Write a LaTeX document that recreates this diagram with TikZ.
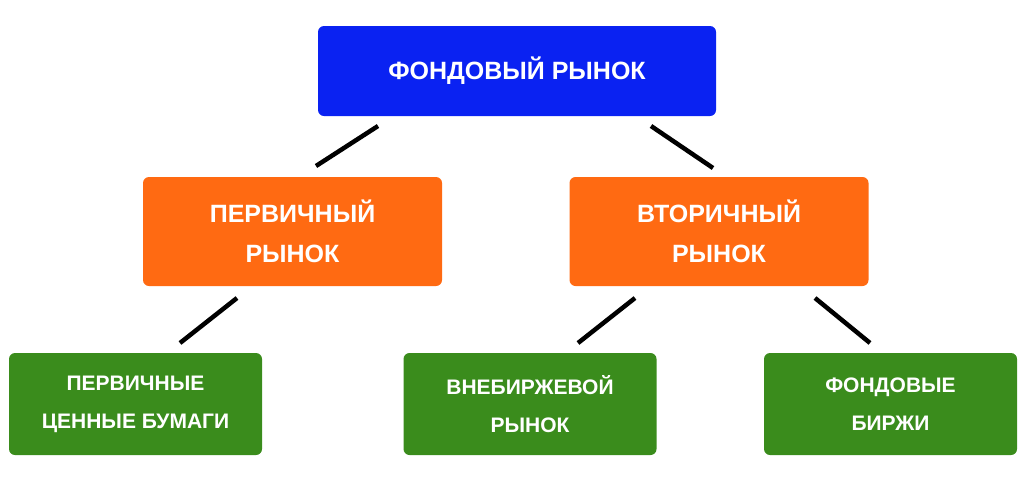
\documentclass[tikz,border=0pt]{standalone}
\usepackage{fontspec}
\setmainfont{Liberation Sans}
\definecolor{cblue}{HTML}{0A22F2}
\definecolor{corange}{HTML}{FF6A12}
\definecolor{cgreen}{HTML}{3A8C1C}
\begin{document}
\begin{tikzpicture}[x=1pt,y=-1pt,
  box/.style={rounded corners=6pt,text=white,align=center,font=\bfseries,inner sep=0pt},
  bluebox/.style={box,fill=cblue,minimum width=398pt,minimum height=90pt,font=\bfseries\fontsize{25}{30}\selectfont},
  orangebox/.style={box,fill=corange,minimum width=299pt,minimum height=109pt,font=\bfseries\fontsize{25}{40}\selectfont},
  greenbox/.style={box,fill=cgreen,minimum width=253pt,minimum height=102pt,font=\bfseries\fontsize{21}{38}\selectfont},
  link/.style={line width=4.5pt,black}]
\useasboundingbox (0,0) rectangle (1024,488);
\node[bluebox] (top) at (517,71) {ФОНДОВЫЙ РЫНОК};
\node[orangebox] (prim) at (292.5,231.5) {ПЕРВИЧНЫЙ\\РЫНОК};
\node[orangebox] (sec) at (719,231.5) {ВТОРИЧНЫЙ\\РЫНОК};
\node[greenbox] (g1) at (135.5,404) {ПЕРВИЧНЫЕ\\ЦЕННЫЕ БУМАГИ};
\node[greenbox] (g2) at (530,404) {ВНЕБИРЖЕВОЙ\\РЫНОК};
\node[greenbox] (g3) at (890.5,404) {ФОНДОВЫЕ\\БИРЖИ};
\coordinate (a1) at (378,126); \coordinate (a2) at (316,166);
\coordinate (b1) at (651,126); \coordinate (b2) at (713,168);
\coordinate (c1) at (237,298); \coordinate (c2) at (180,343);
\coordinate (d1) at (635,298); \coordinate (d2) at (578,343);
\coordinate (e1) at (815,298); \coordinate (e2) at (870,343);
\draw[link] (a1) -- (a2);
\draw[link] (b1) -- (b2);
\draw[link] (c1) -- (c2);
\draw[link] (d1) -- (d2);
\draw[link] (e1) -- (e2);
\end{tikzpicture}
\end{document}
